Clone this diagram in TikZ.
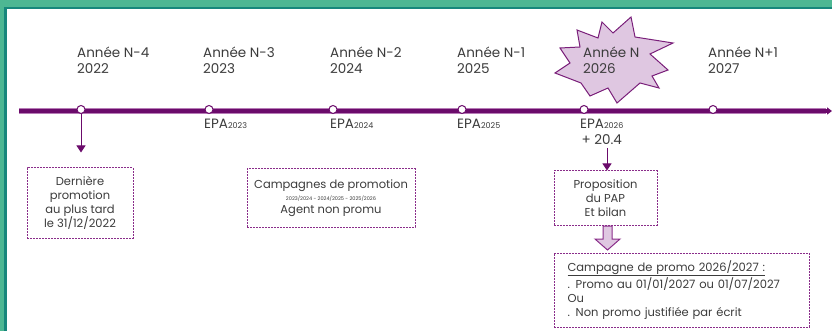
\documentclass[tikz,border=0pt]{standalone}
\usepackage{fontspec}
\setmainfont{Poppins}
\usetikzlibrary{arrows.meta,calc}
\definecolor{bandgreen}{HTML}{4DB793}
\definecolor{tealb}{HTML}{17877C}
\definecolor{tldark}{HTML}{6B0B6B}
\definecolor{tllight}{HTML}{B77BB7}
\definecolor{boxpur}{HTML}{8A2D8A}
\definecolor{starfill}{HTML}{DFC7E1}
\definecolor{starline}{HTML}{7A1F7A}
\definecolor{txt}{HTML}{3C3C3C}
\tikzset{
  yearlbl/.style={anchor=north west,inner sep=0pt,align=left,text=txt,font=\fontsize{13.5}{16}\selectfont},
  epalbl/.style={anchor=north west,inner sep=0pt,text=txt,font=\fontsize{13.5}{16}\selectfont},
  tick/.style={circle,draw=tldark,fill=white,line width=1pt,minimum size=8pt,inner sep=0pt},
  dbox/.style={draw=boxpur,dash pattern=on 2pt off 1pt,line width=1pt,text=txt,inner sep=0pt,align=center,font=\fontsize{11.5}{14.3}\selectfont},
  downarrow/.style={draw=tldark,line width=1pt,-{Triangle[length=7pt,width=9pt]}},
  hollow/.style={draw=boxpur,fill=starfill,line width=1pt,line join=miter}
}
\newcommand{\sml}[1]{{\fontsize{8}{9}\selectfont #1}}
\begin{document}
\begin{tikzpicture}[x=1pt,y=-1pt]
\useasboundingbox (0,0) rectangle (832,331);
% background frame
\fill[bandgreen] (0,0) rectangle (832,331);
\fill[white] (6,8.5) rectangle (832,331);
\draw[tealb,line width=2.5pt] (5.5,331) -- (5.5,8) -- (832,8);
% timeline
\coordinate (tlstart) at (19,111);
\coordinate (tlend) at (832,111);
\draw[tllight,line width=5.5pt] (tlstart) -- ($(tlend)+(-6,0)$);
\draw[tldark,line width=4pt,-{Triangle[length=5pt,width=7pt]}] (tlstart) -- (tlend);
% ticks
\node[tick] (c1) at (81,109.5) {};
\node[tick] (c2) at (209,109.5) {};
\node[tick] (c3) at (333,109.5) {};
\node[tick] (c4) at (462,109.5) {};
\node[tick] (c5) at (584,109.5) {};
\node[tick] (c6) at (713,109.5) {};
% star
\draw[starline,fill=starfill,line width=1pt,line join=miter]
 (631,17) -- (635,37) -- (673,43) -- (650,54) -- (668,70) -- (652,76) -- (659,88) -- (640,83)
 -- (617,103) -- (608,88) -- (590,96) -- (581,83) -- (555,73) -- (570,63) -- (560,48)
 -- (580,47) -- (577,30) -- (598,38) -- (602,22) -- (613,33) -- cycle;
% year labels
\node[yearlbl] (y1) at (77,46.5) {Année N-4\\2022};
\node[yearlbl] (y2) at (203,46.5) {Année N-3\\2023};
\node[yearlbl] (y3) at (330,46.5) {Année N-2\\2024};
\node[yearlbl] (y4) at (457,46.5) {Année N-1\\2025};
\node[yearlbl] (y5) at (583,46.5) {Année N\\2026};
\node[yearlbl] (y6) at (708,46.5) {Année N+1\\2027};
% EPA labels
\node[epalbl] (e2) at (204,118.5) {EPA\sml{2023}};
\node[epalbl] (e3) at (330,118.5) {EPA\sml{2024}};
\node[epalbl] (e4) at (457,118.5) {EPA\sml{2025}};
\node[epalbl,align=center] (e5) at (580,118.5) {EPA\sml{2026}\\+ 20.4};
% boxes
\node[dbox,minimum width=106pt,minimum height=70pt] (b1) at (80,203)
 {Dernière\\promotion\\au plus tard\\le 31/12/2022};
\node[dbox,minimum width=168pt,minimum height=58pt] (b2) at (331,198)
 {Campagnes de promotion\\[-2pt]{\fontsize{5}{6}\selectfont 2023/2024 - 2024/2025 - 2025/2026}\\[-1pt]Agent non promu};
\node[dbox,minimum width=103pt,minimum height=54pt] (b3) at (605.5,198)
 {Proposition\\du PAP\\Et bilan};
\node[dbox,minimum width=255pt,minimum height=74pt,align=left,text width=228pt] (b4) at (681.5,290)
 {\underline{Campagne de promo 2026/2027 :}\\. Promo au 01/01/2027 ou 01/07/2027\\Ou\\. Non promo justifiée par écrit\vphantom{p}\\[2pt]};
% connectors
\draw[downarrow] (c1.south) -- ([yshift=15pt]b1.north -| c1);
\coordinate (a2s) at (607,148);
\draw[downarrow] (a2s) -- (b3.north -| a2s);
% hollow arrow
\draw[hollow] ($(b3.south)+(-2.5,0.5)$) -- ++(0,13) -- ++(-8,0) -- ($(b4.north)+(-74,-2.5)$)
  -- ($(b3.south)+(14.5,13.5)$) -- ++(-8,0) -- ($(b3.south)+(6.5,0.5)$) -- cycle;
\end{tikzpicture}
\end{document}
